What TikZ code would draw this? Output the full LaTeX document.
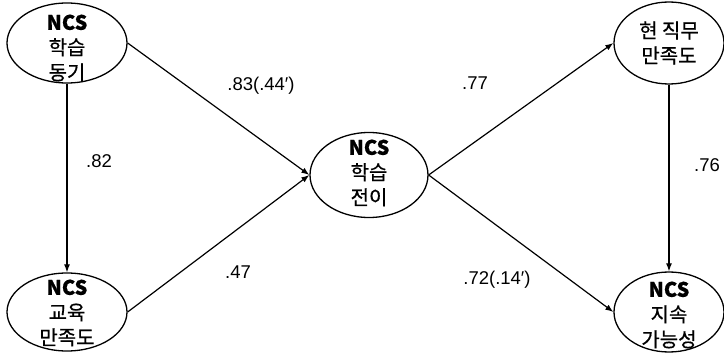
\documentclass[tikz,border=0pt]{standalone}
\usepackage{fontspec}
\newfontfamily\kr[FakeBold=0.6]{Noto Sans CJK KR}
\newfontfamily\lab{Liberation Sans}
\usetikzlibrary{shapes.geometric,arrows.meta}
\begin{document}
\begin{tikzpicture}[x=1pt,y=-1pt,
  elps/.style={draw,ellipse,line width=1.3pt,inner sep=0pt},
  txt/.style={font=\kr\fontsize{20}{25}\selectfont,align=center,inner sep=0pt},
  lbl/.style={font=\lab\fontsize{18.5}{20}\selectfont,inner sep=0pt},
  arr/.style={line width=1.2pt,-{Latex[length=8pt,width=6pt]}}]
\useasboundingbox (0,0) rectangle (724,353);
% ellipses
\node[elps,minimum width=120pt,minimum height=80pt] (tl) at (67,43) {};
\node[elps,minimum width=120pt,minimum height=78pt] (bl) at (67,312) {};
\node[elps,minimum width=118pt,minimum height=85pt] (c) at (369,175) {};
\node[elps,minimum width=110pt,minimum height=82pt] (tr) at (669,43) {};
\node[elps,minimum width=110pt,minimum height=80pt] (br) at (669,312) {};
% texts
\node[txt] (tlt) at (67,48) {{\bfseries NCS}\\학습\\동기};
\node[txt] (blt) at (67,313) {{\bfseries NCS}\\교육\\만족도};
\node[txt] (ct) at (369,173) {{\bfseries NCS}\\학습\\전이};
\node[txt] (trt) at (669,43) {현 직무\\만족도};
\node[txt] (brt) at (669,315) {{\bfseries NCS}\\지속\\가능성};
% connectors
\draw[arr] (tl.south) -- (bl.north);
\draw[arr] (tr.south) -- (br.north);
\draw[arr] (tl.east) -- (c.west);
\draw[arr] (bl.east) -- (c.west);
\draw[arr] (c.east) -- (tr.west);
\draw[arr] (c.east) -- (br.west);
% labels
\node[lbl] (l1) at (261,86) {.83(.44′)};
\node[lbl] (l2) at (475,83) {.77};
\node[lbl] (l3) at (99,161) {.82};
\node[lbl] (l4) at (707,165) {.76};
\node[lbl] (l5) at (238,272) {.47};
\node[lbl] (l6) at (497,280) {.72(.14′)};
\end{tikzpicture}
\end{document}
